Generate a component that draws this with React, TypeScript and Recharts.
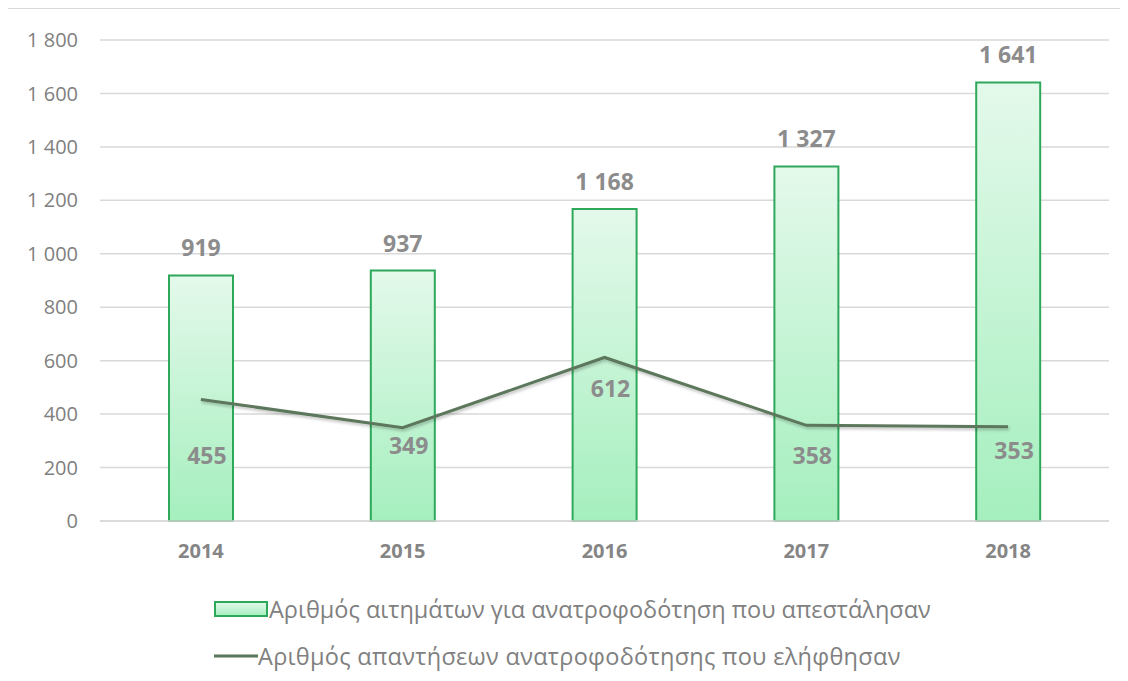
import { Bar, CartesianGrid, ComposedChart, LabelList, Legend, Line, XAxis, YAxis } from 'recharts'

const years = ['2014', '2015', '2016', '2017', '2018']
const requestsSent = [919, 937, 1168, 1327, 1641]
const responsesReceived = [455, 349, 612, 358, 353]
const yTicks = [0, 200, 400, 600, 800, 1000, 1200, 1400, 1600, 1800]

const sentName = 'Αριθμός αιτημάτων για ανατροφοδότηση που απεστάλησαν'
const receivedName = 'Αριθμός απαντήσεων ανατροφοδότησης που ελήφθησαν'

// label nudges for the line values (Excel placed them by hand)
const lineLabelDy = [58, 20, 33, 33, 26]

const data = years.map((year, i) => ({
  year,
  sent: requestsSent[i],
  received: responsesReceived[i],
}))

const font = '"Open Sans", sans-serif'
const fmt = (v: number) => String(v).replace(/\B(?=(\d{3})+(?!\d))/g, ' ')

const LineValue = (props: any) => {
  const { x, y, value, index } = props
  return (
    <text
      x={x + 6}
      y={y + lineLabelDy[index]}
      textAnchor="middle"
      dominantBaseline="middle"
      fill="#8c8c8c"
      fontSize={23}
      fontWeight="bold"
      fontFamily={font}
    >
      {fmt(value)}
    </text>
  )
}

const LegendBox = () => (
  <div style={{ height: 110, paddingTop: 33, boxSizing: 'border-box', fontFamily: font, fontSize: 23.5, color: '#808080' }}>
    <div style={{ display: 'flex', alignItems: 'center', marginLeft: 206, height: 30 }}>
      <svg width={55} height={16}>
        <rect x={1} y={1} width={52} height={14} fill="url(#barFill)" stroke="#2ea85a" strokeWidth={2} />
      </svg>
      <span>{sentName}</span>
    </div>
    <div style={{ display: 'flex', alignItems: 'center', marginLeft: 206, height: 30, marginTop: 17 }}>
      <svg width={44} height={16}>
        <line x1={0} y1={8} x2={44} y2={8} stroke="#5b775b" strokeWidth={3} />
      </svg>
      <span style={{ letterSpacing: 0.3 }}>{receivedName}</span>
    </div>
  </div>
)

export default function App() {
  return (
    <div style={{ width: 1120, height: 673, borderLeft: '1px solid #d9d9d9', borderTop: '1px solid #d9d9d9', boxSizing: 'border-box', marginLeft: -1, background: '#fff' }}>
      <ComposedChart
        width={1119}
        height={672}
        data={data}
        margin={{ top: 31, right: 18, bottom: 10, left: 0 }}
      >
        <defs>
          <linearGradient id="barFill" x1="0" y1="0" x2="0" y2="1">
            <stop offset="0%" stopColor="#e4f9eb" />
            <stop offset="100%" stopColor="#a5efbe" />
          </linearGradient>
          <filter id="lineShadow" x="-5%" y="-20%" width="110%" height="140%">
            <feDropShadow dx={1} dy={2} stdDeviation={1.5} floodColor="#000" floodOpacity={0.25} />
          </filter>
        </defs>
        <CartesianGrid vertical={false} stroke="#d9d9d9" strokeWidth={1.5} />
        <XAxis
          dataKey="year"
          height={40}
          tickSize={0}
          tickMargin={23}
          axisLine={{ stroke: '#d9d9d9', strokeWidth: 1.5 }}
          tick={{ fill: '#858585', fontSize: 20, fontWeight: 'bold', fontFamily: font }}
        />
        <YAxis
          width={92}
          domain={[0, 1800]}
          ticks={yTicks}
          tickFormatter={fmt}
          axisLine={false}
          tickSize={0}
          tickMargin={22}
          tick={{ fill: '#7f7f7f', fontSize: 20, fontFamily: font }}
        />
        <Legend verticalAlign="bottom" content={<LegendBox />} />
        <Bar
          dataKey="sent"
          name={sentName}
          barSize={64}
          fill="url(#barFill)"
          stroke="#2ea85a"
          strokeWidth={2}
          isAnimationActive={false}
        >
          <LabelList
            dataKey="sent"
            position="top"
            offset={19}
            formatter={(v: any) => fmt(v)}
            style={{ fill: '#8c8c8c', fontSize: 23, fontWeight: 'bold', fontFamily: font }}
          />
        </Bar>
        <Line
          dataKey="received"
          name={receivedName}
          type="linear"
          stroke="#5b775b"
          strokeWidth={3}
          dot={false}
          activeDot={false}
          filter="url(#lineShadow)"
          isAnimationActive={false}
        >
          <LabelList dataKey="received" content={<LineValue />} />
        </Line>
      </ComposedChart>
    </div>
  )
}
